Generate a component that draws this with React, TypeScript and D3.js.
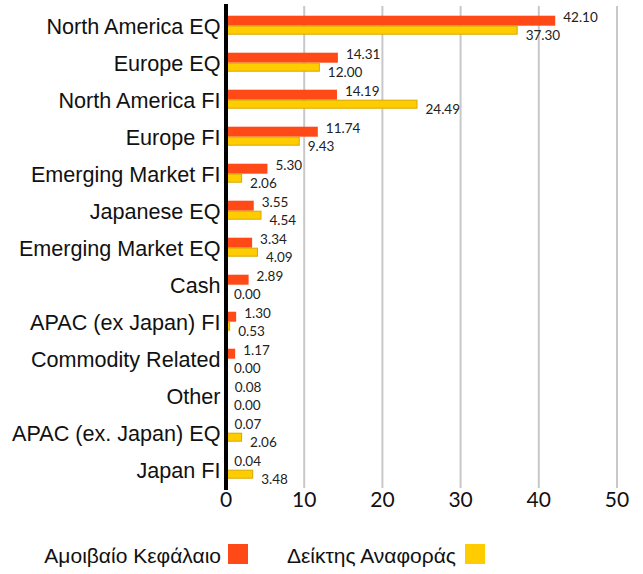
import React from "react";
import * as d3 from "d3";

const categories = [
  "North America EQ",
  "Europe EQ",
  "North America FI",
  "Europe FI",
  "Emerging Market FI",
  "Japanese EQ",
  "Emerging Market EQ",
  "Cash",
  "APAC (ex Japan) FI",
  "Commodity Related",
  "Other",
  "APAC (ex. Japan) EQ",
  "Japan FI",
];
const fundValues = [42.1, 14.31, 14.19, 11.74, 5.3, 3.55, 3.34, 2.89, 1.3, 1.17, 0.08, 0.07, 0.04];
const benchValues = [37.3, 12.0, 24.49, 9.43, 2.06, 4.54, 4.09, 0.0, 0.53, 0.0, 0.0, 2.06, 3.48];
const xTicks = [0, 10, 20, 30, 40, 50];
const seriesNames = ["Αμοιβαίο Κεφάλαιο", "Δείκτης Αναφοράς"];

const W = 643;
const H = 574;
const RED = "#ff4a17";
const YELLOW = "#ffcc00";
const YELLOW_STROKE = "#d6a900";
const NUM_FONT = "Lato, 'Open Sans', sans-serif";
const LABEL_FONT = "'Liberation Sans', Arial, sans-serif";

export default function App() {
  const x = d3.scaleLinear().domain([0, 50]).range([226, 617]);
  const y = d3.scaleBand<string>().domain(categories).range([7.2, 488.2]).padding(0);
  const c = (cat: string) => (y(cat) as number) + y.bandwidth() / 2;

  return (
    <svg
      width={W}
      height={H}
      style={{ position: "absolute", left: 0, top: 0, background: "#fff" }}
    >
      {xTicks.slice(1).map((t) => (
        <line key={"g" + t} x1={x(t)} x2={x(t)} y1={6} y2={488} stroke="#c8c8c8" strokeWidth={2} />
      ))}
      {categories.map((cat, i) => {
        const cy = c(cat);
        const fv = fundValues[i];
        const bv = benchValues[i];
        return (
          <g key={cat}>
            <text
              x={220.5}
              y={cy + 0.5}
              dy="0.35em"
              textAnchor="end"
              fontFamily={LABEL_FONT}
              fontSize={21.6}
              fill="#111"
            >
              {cat}
            </text>
            {fv > 0 && (
              <rect x={x(0)} y={cy - 10} width={x(fv) - x(0)} height={10} fill={RED} />
            )}
            {bv > 0 && (
              <rect
                x={x(0)}
                y={cy + 0.5}
                width={x(bv) - x(0) - 0.5}
                height={8}
                fill={YELLOW}
                stroke={YELLOW_STROKE}
                strokeWidth={1}
              />
            )}
            <text x={x(fv) + 8} y={cy - 4} fontFamily={NUM_FONT} fontSize={13.5} fill="#222">
              {fv.toFixed(2)}
            </text>
            <text x={x(bv) + 8} y={cy + 14} fontFamily={NUM_FONT} fontSize={13.5} fill="#222">
              {bv.toFixed(2)}
            </text>
          </g>
        );
      })}
      <line x1={x(0)} x2={x(0)} y1={4} y2={490} stroke="#000" strokeWidth={4} />
      {xTicks.map((t) => (
        <text
          key={"t" + t}
          x={x(t)}
          y={507}
          textAnchor="middle"
          fontFamily={NUM_FONT}
          fontSize={21}
          fill="#111"
        >
          {t}
        </text>
      ))}
      <g fontFamily={LABEL_FONT} fontSize={21} fill="#111">
        <text x={221} y={562.5} textAnchor="end">
          {seriesNames[0]}
        </text>
        <rect x={228} y={544} width={20} height={20} fill={RED} />
        <text x={456} y={562.5} textAnchor="end">
          {seriesNames[1]}
        </text>
        <rect x={465} y={544} width={20} height={20} fill={YELLOW} />
      </g>
    </svg>
  );
}
